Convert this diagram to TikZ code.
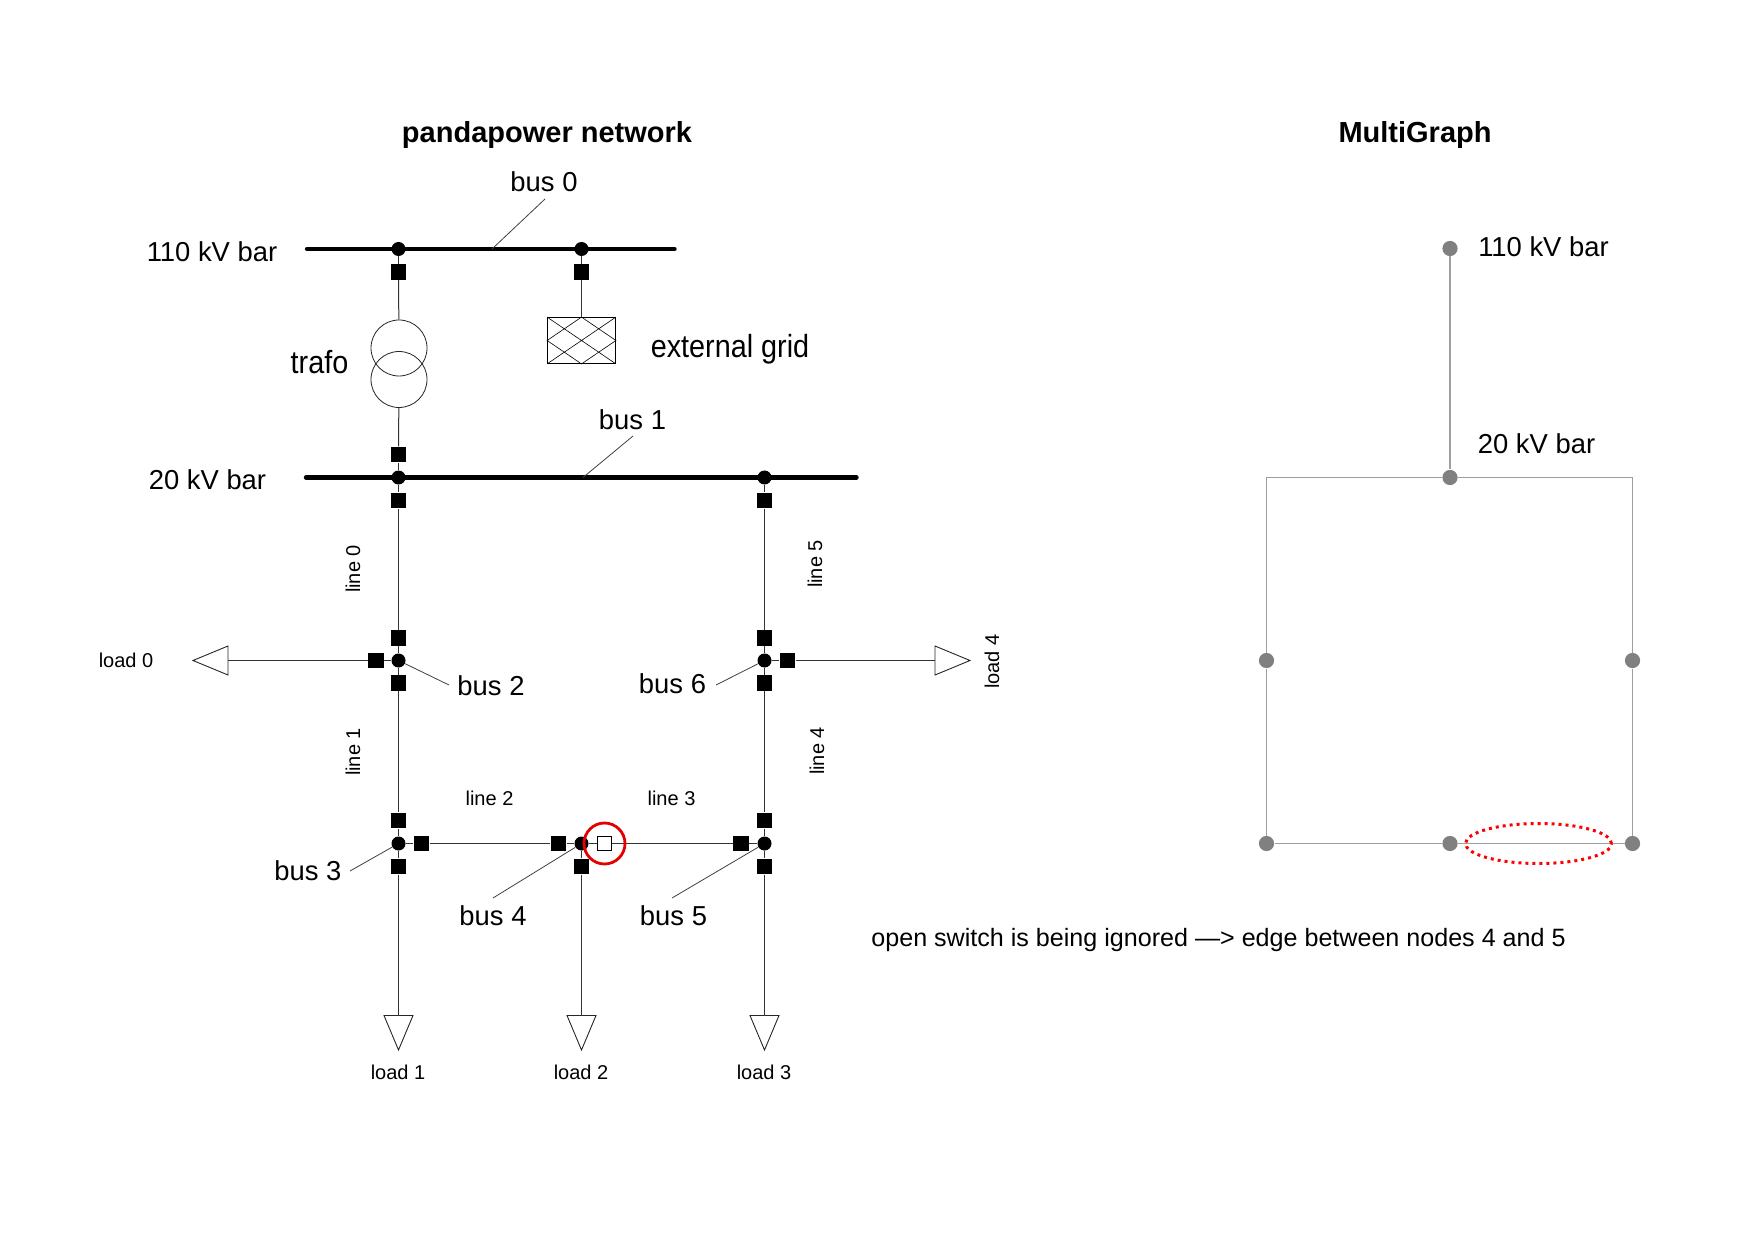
\documentclass[tikz,border=0pt]{standalone}
\usepackage{fontspec}
\setmainfont{Liberation Sans}
\newfontfamily\narrowfont[FakeStretch=0.9]{Liberation Sans}
\usetikzlibrary{calc}
\usetikzlibrary{shapes.geometric}
\begin{document}
\begin{tikzpicture}[x=0.5pt, y=-0.5pt,
	busdot/.style = {draw=none, fill=black, circle, inner sep=0pt, minimum size=7pt},
	sw/.style = {draw=none, fill=black, rectangle, inner sep=0pt, minimum size=7.7pt},
	opensw/.style = {draw=black, fill=white, rectangle, inner sep=0pt, minimum size=7pt, line width=0.4pt},
	gnode/.style = {draw=none, fill=black!50, circle, inner sep=0pt, minimum size=7.6pt},
	wire/.style = {line width=0.5pt, color=black!80},
	busbar/.style = {line width=2.2pt, line cap=round},
	leader/.style = {line width=0.4pt, color=black!75},
	edgeline/.style = {line width=0.55pt, color=black!38},
	loadtri/.style = {line width=0.45pt, draw=black!85, fill=white},
	lab/.style = {font=\fontsize{13.7}{16}\selectfont, inner sep=0pt},
	smalllab/.style = {font=\fontsize{10}{12}\selectfont, inner sep=0pt},
	ttl/.style = {font=\fontsize{14.5}{17}\selectfont\bfseries, inner sep=0pt}
]
\useasboundingbox (0,0) rectangle (1754,1240);

% Titles
\node[ttl] (T1) at (547,135) {pandapower network};
\node[ttl] (T2) at (1415,135) {MultiGraph};

% Bars
\coordinate (B0a) at (307,249);
\coordinate (B0b) at (674.5,249);
\coordinate (B1a) at (306,477.5);
\coordinate (B1b) at (856.5,477.5);
\draw[busbar] (B0a) -- (B0b);
\draw[busbar] (B1a) -- (B1b);

% Bus dots
\foreach \Q/\X/\Y in {b0a/398.5/249, b0b/581.5/249, b1a/398.5/477.5, b1b/764.5/477.5, b2/398.5/660.5, b6/764.5/660.5, b3/398.5/843.5, b4/581.5/843.5, b5/764.5/843.5} {
  \node[busdot] (\Q) at (\X,\Y) {};
}

% Closed switches
\foreach \Q/\X/\Y in {s1/398.5/272, s2/581.5/272, s3/398.5/454.5, s4/398.5/500.5, s5/764.5/500.5,
  s6/398.5/638, s7/764.5/638, s8/398.5/683, s9/764.5/683,
  s10/398.5/820.5, s11/764.5/820.5, s12/398.5/866.5, s13/581.5/866.5, s14/764.5/866.5,
  s15/376/660.5, s16/787.5/660.5, s17/421.5/843.5, s18/558.5/843.5, s19/741/843.5} {
  \node[sw] (\Q) at (\X,\Y) {};
}
\node[opensw] (open) at (604.5,843.5) {};

% Transformer and external grid
\node[draw=black!85, circle, inner sep=0pt, minimum size=28pt, line width=0.4pt] (tr1) at (399,348) {};
\node[draw=black!85, circle, inner sep=0pt, minimum size=28pt, line width=0.4pt] (tr2) at (399,379.5) {};
\node[draw=black, rectangle, inner sep=0pt, minimum width=34pt, minimum height=23pt, line width=0.4pt] (grid) at (581.5,340.5) {};
\draw[line width=0.3pt] (grid.north west) -- (grid.south east) (grid.north east) -- (grid.south west);
\draw[line width=0.3pt] (grid.north) -- (grid.west) -- (grid.south) -- (grid.east) -- cycle;

% Load symbols
\foreach \Q/\X in {L1/398.5, L2/581.5, L3/764.5} {
  \coordinate (\Q) at (\X,1015.5);
  \draw[loadtri] ($(\Q)+(-14.5,0)$) -- ($(\Q)+(14.5,0)$) -- ($(\Q)+(0,34.5)$) -- cycle;
}
\coordinate (L0) at (228,660.5);
\coordinate (L4) at (935,660.5);
\draw[loadtri] ($(L0)+(0,-14.5)$) -- ($(L0)+(0,14.5)$) -- ($(L0)+(-35,0)$) -- cycle;
\draw[loadtri] ($(L4)+(0,-14.5)$) -- ($(L4)+(0,14.5)$) -- ($(L4)+(35,0)$) -- cycle;

% Wires
\foreach \A/\B in {b0a/s1, s1/tr1, b0b/s2, s2/grid, tr2/s3, s3/b1a, b1a/s4, s4/s6, s6/b2, b2/s8, s8/s10, s10/b3, b3/s12,
  b1b/s5, s5/s7, s7/b6, b6/s9, s9/s11, s11/b5, b5/s14, b2/s15, b6/s16, b3/s17, s17/s18, s18/b4, b4/open, open/s19, s19/b5, b4/s13} {
  \draw[wire] (\A) -- (\B);
}
\foreach \A/\B in {s12/L1, s13/L2, s14/L3, s15/L0, s16/L4} {
  \draw[wire] (\A) -- (\B);
}

% Open switch marker
\node[draw=red!90!black, circle, inner sep=0pt, minimum size=20.5pt, line width=1.4pt] (ring) at (604.5,843.5) {};

% Bus labels with their leaders
\node[lab] (tb0) at (544,182) {bus 0};
\node[lab] (tb1) at (632.5,419.5) {bus 1};
\node[lab] (tb2) at (491,685.5) {bus 2};
\node[lab] (tb6) at (672.5,684) {bus 6};
\node[lab] (tb3) at (308,870.5) {bus 3};
\node[lab] (tb4) at (493,915.5) {bus 4};
\node[lab] (tb5) at (673.5,915.5) {bus 5};
\coordinate (m0) at (492,249);
\coordinate (m1) at (583,477.5);
\coordinate (e0) at (545,199);
\coordinate (e1) at (633,436);
\coordinate (e2) at (449,685);
\coordinate (e6) at (716,685);
\coordinate (e3) at (350,871);
\coordinate (e4) at (493,898);
\coordinate (e5) at (672,898);
\foreach \A/\B in {e0/m0, e1/m1, e2/b2, e6/b6, e3/b3, e4/b4, e5/b5} {
  \draw[leader] (\A) -- (\B);
}

% Other labels
\node[lab] (t110) at (212,252) {110 kV bar};
\node[lab] (t20) at (207.5,480) {20 kV bar};
\node[font=\narrowfont\fontsize{16}{18}\selectfont, inner sep=0pt] (ttr) at (319.5,362) {trafo};
\node[font=\narrowfont\fontsize{16}{18}\selectfont, inner sep=0pt] (teg) at (730,349) {external grid};
\node[smalllab] (tl0) at (126,660) {load 0};
\node[smalllab] (tl1) at (398,1072) {load 1};
\node[smalllab] (tl2) at (581,1072) {load 2};
\node[smalllab] (tl3) at (764,1072) {load 3};
\node[smalllab, rotate=90] (tl4) at (992,661.5) {load 4};
\node[smalllab, rotate=90] (li0) at (353,569) {line 0};
\node[smalllab, rotate=90] (li1) at (353,752) {line 1};
\node[smalllab] (li2) at (489.5,798) {line 2};
\node[smalllab] (li3) at (671.5,798) {line 3};
\node[smalllab, rotate=90] (li4) at (817,751) {line 4};
\node[smalllab, rotate=90] (li5) at (815,564) {line 5};

% MultiGraph
\foreach \Q/\X/\Y in {g0/1450/248.5, g1/1450/477.5, g2/1266.5/660.5, g6/1632.5/660.5, g3/1266.5/843.5, g4/1450/843.5, g5/1632.5/843.5} {
  \node[gnode] (\Q) at (\X,\Y) {};
}
\draw[edgeline] (g0) -- (g1);
\draw[edgeline] (g1) -| (g2);
\draw[edgeline] (g1) -| (g6);
\draw[edgeline] (g2) -- (g3);
\draw[edgeline] (g6) -- (g5);
\draw[edgeline] (g3) -- (g4);
\draw[edgeline] (g4) -- (g5);
\node[draw=red, ellipse, dotted, line width=1.5pt, inner sep=0pt, minimum width=73pt, minimum height=20pt] (mark) at (1538.5,843.5) {};
\node[lab] (g110) at (1543.5,247) {110 kV bar};
\node[lab] (g20) at (1536.5,444) {20 kV bar};

% Annotation
\node[inner sep=0pt, font=\fontsize{12.55}{15}\selectfont] (note) at (1218.5,940.5) {open switch is being ignored —> edge between nodes 4 and 5};
\end{tikzpicture}
\end{document}
